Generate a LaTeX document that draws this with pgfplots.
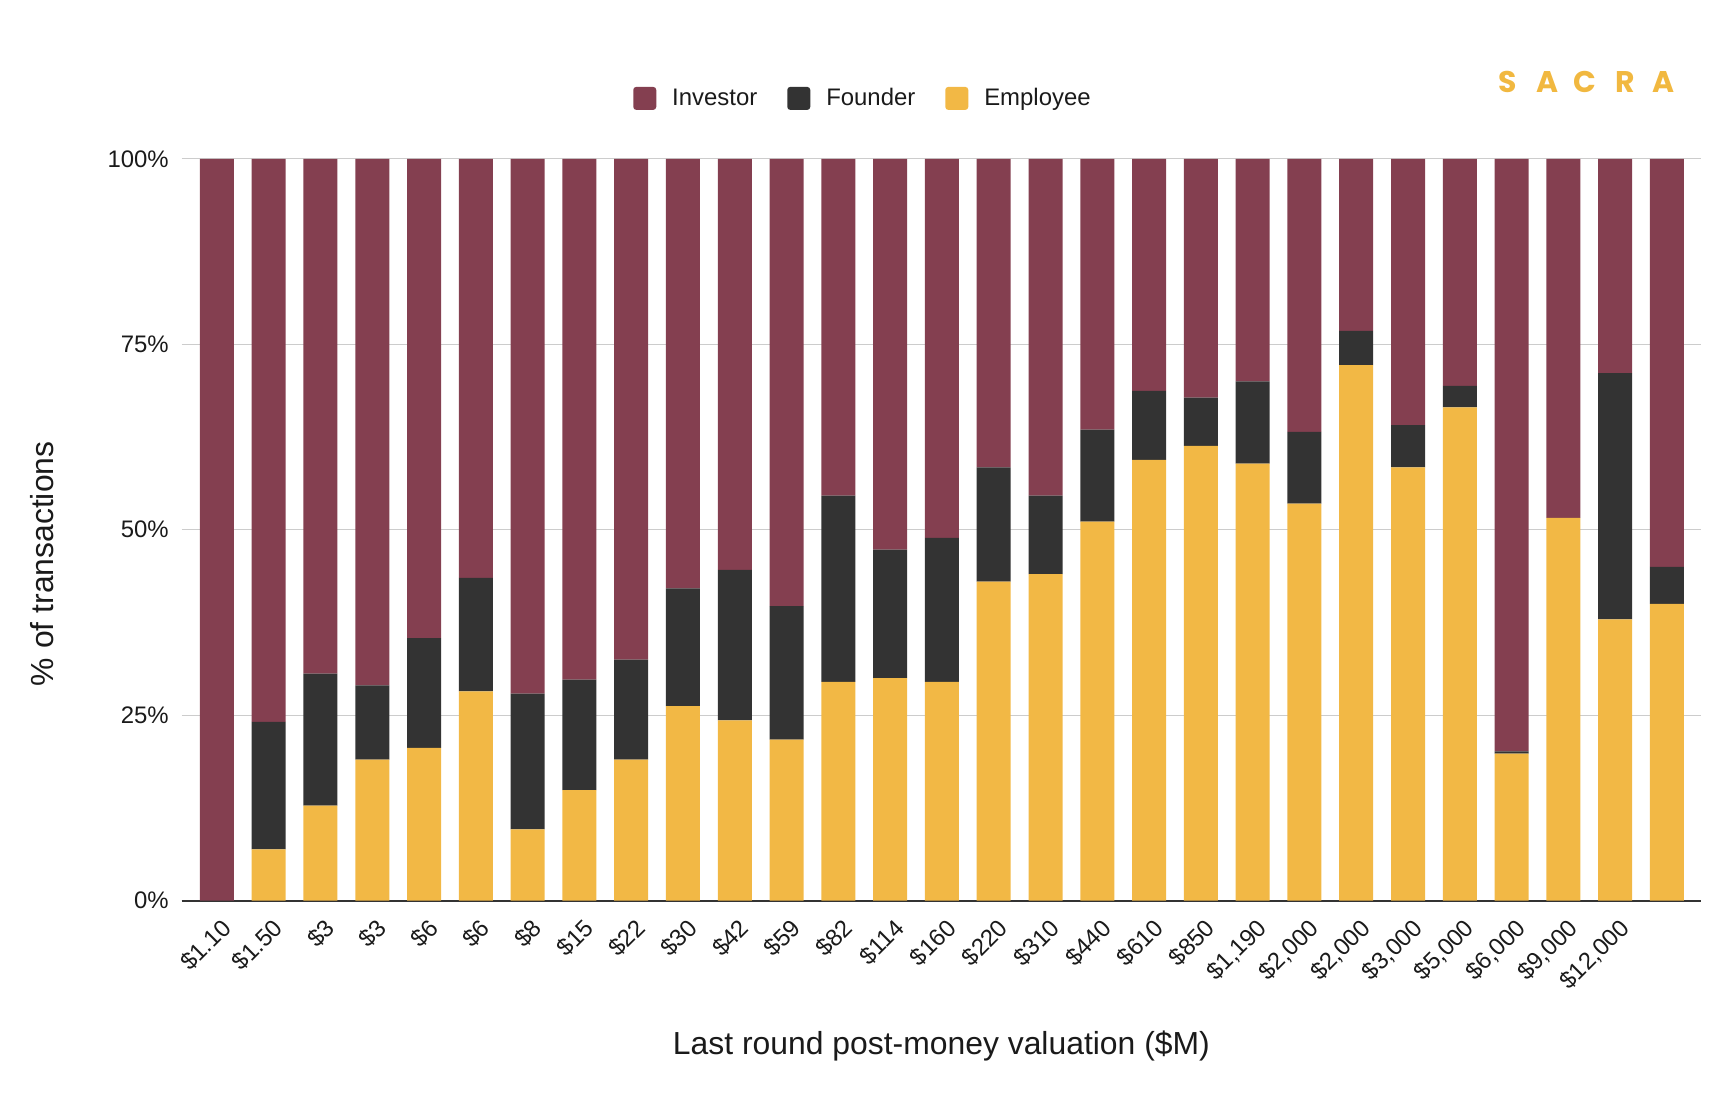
\documentclass[border=0pt]{standalone}
\usepackage{pgfplots}
\pgfplotsset{compat=1.18}
\usepackage{pgfplotstable}
\usepackage{fontspec}
\setmainfont{Liberation Sans}
\newfontfamily\logofont{Poppins}
\definecolor{inv}{HTML}{843F50}
\definecolor{fou}{HTML}{333333}
\definecolor{emp}{HTML}{F2B845}
\definecolor{gridc}{HTML}{CCCCCC}
\definecolor{logoc}{HTML}{F1B840}
\definecolor{txt}{HTML}{1A1A1A}

\pgfplotstableread{
idx emp fou inv
0 0 0 100
1 6.9 17.2 75.9
2 12.8 17.8 69.4
3 19.0 10.0 71.0
4 20.6 14.8 64.6
5 28.2 15.3 56.5
6 9.6 18.3 72.1
7 14.9 14.9 70.2
8 19.0 13.5 67.5
9 26.2 15.9 57.9
10 24.3 20.3 55.4
11 21.7 18.0 60.3
12 29.5 25.1 45.4
13 30.0 17.3 52.7
14 29.5 19.4 51.1
15 43.0 15.4 41.6
16 44.0 10.6 45.4
17 51.1 12.4 36.5
18 59.4 9.3 31.3
19 61.3 6.5 32.2
20 58.9 11.1 30.0
21 53.5 9.7 36.8
22 72.2 4.6 23.2
23 58.4 5.7 35.9
24 66.5 2.9 30.6
25 19.8 0.3 79.9
26 51.6 0 48.4
27 37.9 33.2 28.9
28 40.0 5.0 55.0
}\datatable

\begin{document}
\begin{tikzpicture}
\path[use as bounding box] (0,0) rectangle (863bp,548bp);
\begin{axis}[
  at={(90.85bp,97.7bp)}, anchor=south west,
  scale only axis, width=759.7bp, height=370.9bp,
  ybar stacked, bar width=17bp,
  xmin=-0.68, xmax=28.66, ymin=0, ymax=100,
  xtick={0,...,28},
  xticklabels={{\$1.10},{\$1.50},{\$3},{\$3},{\$6},{\$6},{\$8},{\$15},{\$22},{\$30},{\$42},{\$59},{\$82},{\$114},{\$160},{\$220},{\$310},{\$440},{\$610},{\$850},{\$1,190},{\$2,000},{\$2,000},{\$3,000},{\$5,000},{\$6,000},{\$9,000},{\$12,000},{}},
  ytick={0,25,50,75,100},
  yticklabels={0\%,25\%,50\%,75\%,100\%},
  axis x line*=bottom, axis y line*=left,
  y axis line style={draw=none},
  x axis line style={draw=fou, line width=1bp, -},
  tick style={draw=none},
  ymajorgrids, grid style={gridc, line width=0.6bp},
  xticklabel style={xshift=1.5bp, yshift=-8bp, rotate=45, anchor=north east, inner sep=0pt, font=\fontsize{12}{14}\selectfont, text=txt},
  yticklabel style={xshift=-3bp, font=\fontsize{12}{14}\selectfont, text=txt},
  xlabel={Last round post-money valuation (\$M)},
  ylabel={\% of transactions},
  xlabel style={at={(axis description cs:0.5,-0.196)}, anchor=center, font=\fontsize{16}{19}\selectfont, text=txt},
  ylabel style={at={(axis description cs:-0.0919,0.454)}, anchor=center, font=\fontsize{16}{19}\selectfont, text=txt},
  legend columns=3,
  legend style={at={(axis description cs:0.449,1.0814)}, anchor=center, draw=none, fill=none,
    font=\fontsize{12}{14}\selectfont, text=txt,
    /tikz/every odd column/.append style={column sep=6bp},
    /tikz/every even column/.append style={column sep=13bp}},
  legend image code/.code={\fill[#1, rounded corners=1.5bp] (0bp,-5.75bp) rectangle (11.5bp,5.75bp);},
]
\addlegendimage{fill=inv, draw=none}
\addlegendentry{Investor}
\addlegendimage{fill=fou, draw=none}
\addlegendentry{Founder}
\addlegendimage{fill=emp, draw=none}
\addlegendentry{Employee}
\addplot[forget plot, fill=emp, draw=none] table[x=idx, y=emp] {\datatable};
\addplot[forget plot, fill=fou, draw=none] table[x=idx, y=fou] {\datatable};
\addplot[forget plot, fill=inv, draw=none] table[x=idx, y=inv] {\datatable};
\end{axis}
\begin{scope}[every node/.style={font=\logofont\bfseries\fontsize{15}{18}\selectfont, text=logoc, inner sep=0pt}]
\node at (754bp,507bp) {S};
\node at (773.5bp,507bp) {A};
\node at (792.5bp,507bp) {C};
\node at (812.5bp,507bp) {R};
\node at (831.5bp,507bp) {A};
\end{scope}
\end{tikzpicture}
\end{document}
